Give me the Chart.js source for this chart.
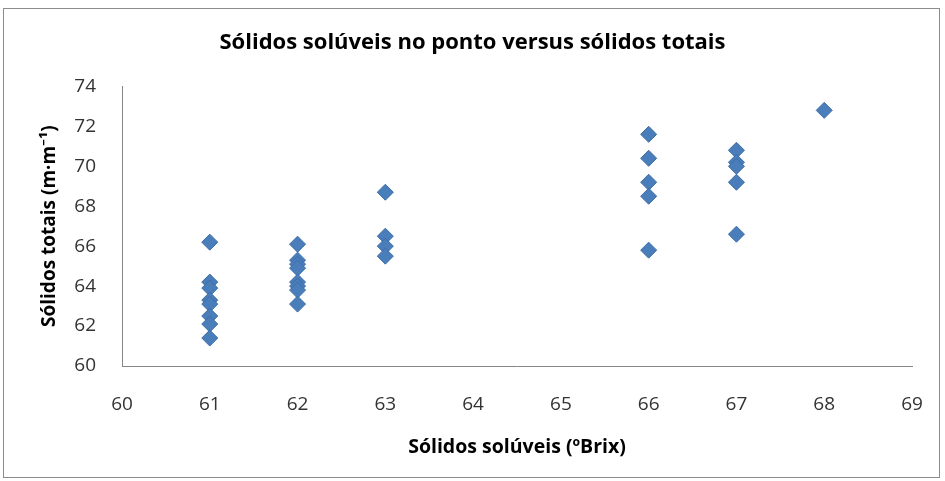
<!DOCTYPE html>
<html>
<head>
<meta charset="utf-8">
<script src="https://cdn.jsdelivr.net/npm/chart.js@4.4.0/dist/chart.umd.min.js"></script>
<style>
  body { margin: 0; background: #fff; }
  #wrap { position: absolute; left: 0; top: 0; width: 945px; height: 481px; }
</style>
</head>
<body>
<div id="wrap"><canvas id="chart" width="945" height="481"></canvas></div>
<script>
// brix values (x) and total solids (y)
const brix61 = [66.2, 64.2, 63.9, 63.3, 63.1, 62.5, 62.1, 61.4];
const brix62 = [66.1, 65.3, 65.1, 64.9, 64.2, 64.0, 63.8, 63.1];
const brix63 = [68.7, 66.5, 66.0, 65.5];
const brix66 = [71.6, 70.4, 69.2, 68.5, 65.8];
const brix67 = [70.8, 70.2, 70.0, 69.2, 66.6];
const brix68 = [72.8];

const xGroups = [61, 62, 63, 66, 67, 68];
const yGroups = [brix61, brix62, brix63, brix66, brix67, brix68];

const points = [];
xGroups.forEach((x, i) => {
    yGroups[i].forEach(y => points.push({ x: x, y: y }));
});

const fontFamily = "'Open Sans', 'Noto Sans', sans-serif";

// frame around the whole chart
const framePlugin = {
    id: 'frame',
    beforeDraw(chart) {
        const ctx = chart.ctx;
        ctx.save();
        ctx.fillStyle = '#fff';
        ctx.fillRect(0, 0, chart.width, chart.height);
        ctx.strokeStyle = '#8c8c8c';
        ctx.lineWidth = 1;
        ctx.strokeRect(3.5, 8.5, 936, 469);
        ctx.restore();
    }
};

new Chart(document.getElementById('chart'), {
    type: 'scatter',
    data: {
        datasets: [{
            label: 'Sólidos totais',
            data: points,
            pointStyle: 'rectRot',
            pointRadius: 8,
            pointHoverRadius: 8,
            backgroundColor: '#4a7ebb',
            borderColor: '#3d6da6',
            borderWidth: 1
        }]
    },
    options: {
        responsive: false,
        animation: false,
        layout: { padding: 0 },
        plugins: {
            legend: { display: false },
            tooltip: { enabled: false },
            title: {
                display: true,
                text: 'Sólidos solúveis no ponto versus sólidos totais',
                color: '#000',
                font: { family: fontFamily, size: 22, weight: 'bold' },
                padding: { top: 30, bottom: 30 }
            }
        },
        scales: {
            x: {
                type: 'linear',
                min: 60,
                max: 69,
                ticks: {
                    stepSize: 1,
                    color: '#333',
                    font: { family: fontFamily, size: 19 },
                    padding: 19
                },
                grid: { display: false },
                border: { display: true, color: '#868686', width: 1 },
                title: {
                    display: true,
                    text: 'Sólidos solúveis (ºBrix)',
                    color: '#000',
                    font: { family: fontFamily, size: 19.5, weight: 'bold' },
                    padding: { top: 0, bottom: 22 }
                },
                afterFit(scale) { scale.height = 115; }
            },
            y: {
                min: 60,
                max: 74,
                ticks: {
                    stepSize: 2,
                    color: '#333',
                    font: { family: fontFamily, size: 19 },
                    padding: 18
                },
                grid: { display: false },
                border: { display: true, color: '#868686', width: 1 },
                title: {
                    display: true,
                    text: 'Sólidos totais (m·m⁻¹)',
                    color: '#000',
                    font: { family: fontFamily, size: 19, weight: 'bold' },
                    padding: { top: 38, bottom: 0 }
                },
                afterFit(scale) { scale.width = 122; }
            },
            // empty right-hand strip so the plot ends where the reference does
            spacer: {
                type: 'linear',
                position: 'right',
                display: true,
                ticks: { display: false },
                grid: { display: false },
                border: { display: false },
                afterFit(scale) { scale.width = 33; }
            }
        }
    },
    plugins: [framePlugin]
});
</script>
</body>
</html>
